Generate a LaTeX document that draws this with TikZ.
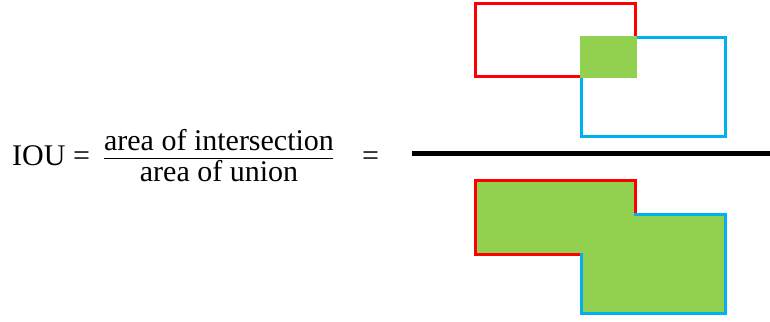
\documentclass[tikz,border=0pt]{standalone}
\usepackage{fontspec}
\setmainfont{Liberation Serif}
\definecolor{boxred}{HTML}{FF0000}
\definecolor{boxblue}{HTML}{00B0F0}
\definecolor{boxgreen}{HTML}{92D050}
\begin{document}
\begin{tikzpicture}[x=1pt,y=-1pt,
  txt/.style={inner sep=0pt, font=\fontsize{30}{36}\selectfont},
  redline/.style={draw=boxred, line width=3pt, line cap=rect, line join=miter},
  blueline/.style={draw=boxblue, line width=3pt, line cap=rect, line join=miter},
  greenfill/.style={fill=boxgreen},
  bar/.style={line width=1.6pt},
  bigbar/.style={line width=5pt}]
\useasboundingbox (0,0) rectangle (770,321);
% formula
\node[txt, anchor=base west] (iou) at (12,165) {IOU =};
\node[txt, anchor=base] (num) at (219,150) {area of intersection};
\node[txt, anchor=base] (den) at (219,181.7) {area of union};
\coordinate (barl) at (104,158.3);
\coordinate (barr) at (333,158.3);
\draw[bar] (barl) -- (barr);
\node[txt, anchor=base] (eq) at (370.5,165) {=};
% big fraction line
\coordinate (ls) at (412.3,153.5);
\coordinate (le) at (770,153.5);
\draw[bigbar] (ls) -- (le);
% top: intersection
\draw[redline] (475,4) rectangle (635.7,76.3);
\draw[blueline] (581,37.7) rectangle (725,136.7);
\fill[greenfill] (579.5,36.2) rectangle (637.2,77.8);
% bottom: union
\fill[greenfill] (475,180.3) -- (635.7,180.3) -- (635.7,214.2) -- (725,214.2)
  -- (725,313.6) -- (581,313.6) -- (581,254) -- (475,254) -- cycle;
\draw[redline] (581,254) -- (475,254) -- (475,180.3) -- (635.7,180.3) -- (635.7,214.2);
\draw[blueline] (635.7,214.2) -- (725,214.2) -- (725,313.6) -- (581,313.6) -- (581,254);
\end{tikzpicture}
\end{document}
